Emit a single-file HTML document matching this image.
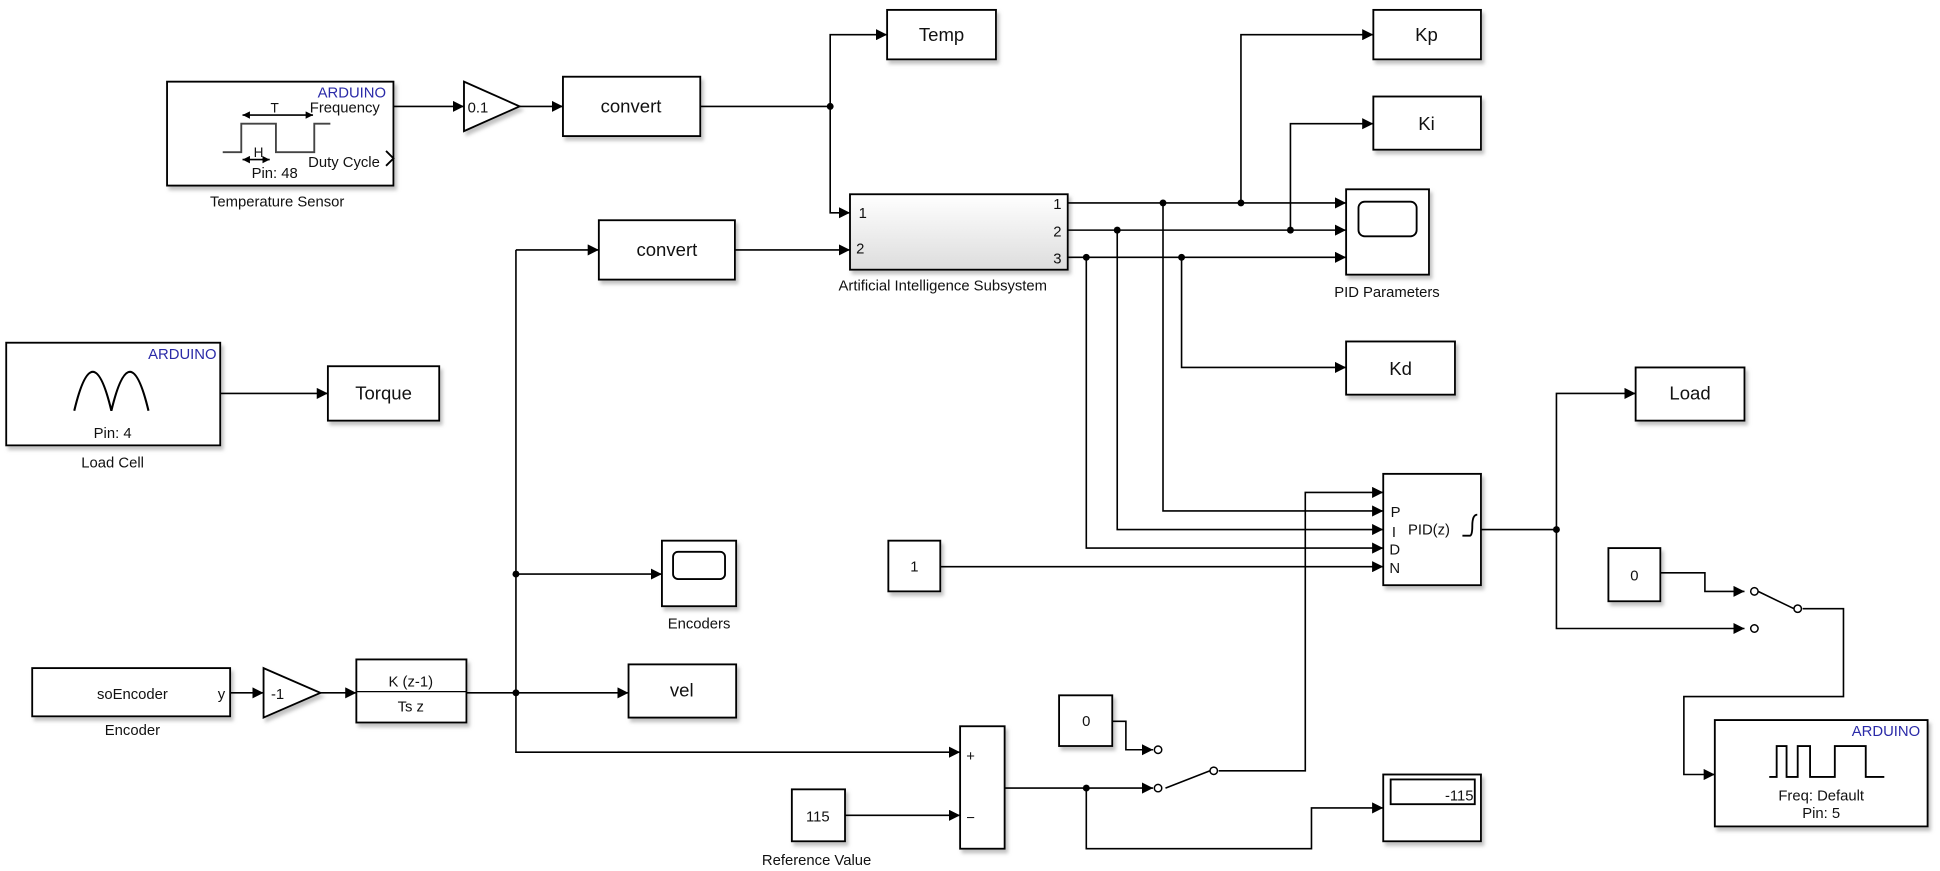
<!DOCTYPE html>
<html><head><meta charset="utf-8"><style>
html,body{margin:0;padding:0;background:#fff;}
svg{display:block;}
text{font-family:"Liberation Sans",Arial,sans-serif;fill:#111;}
</style></head><body>
<svg width="1940" height="871" viewBox="0 0 1568 704" xmlns="http://www.w3.org/2000/svg">
<defs>
<marker id="a" viewBox="0 0 10 10" refX="10" refY="5" markerWidth="9" markerHeight="9" markerUnits="userSpaceOnUse" orient="auto"><path d="M0,0L10,5L0,10z" fill="#000"/></marker>
<marker id="b" viewBox="0 0 10 10" refX="10" refY="5" markerWidth="6" markerHeight="6" markerUnits="userSpaceOnUse" orient="auto-start-reverse"><path d="M0,0L10,5L0,10z" fill="#000"/></marker>
<linearGradient id="g" x1="0" y1="0" x2="0" y2="1"><stop offset="0" stop-color="#fff"/><stop offset="1" stop-color="#ddd"/></linearGradient>
<filter id="s" x="-10%" y="-10%" width="130%" height="130%"><feDropShadow dx="2" dy="3" stdDeviation="1.5" flood-color="#999" flood-opacity="0.6"/></filter>
</defs>
<g fill="#fff" stroke="#000" stroke-width="1.5" filter="url(#s)">
<rect x="135" y="66" width="183" height="84"/>
<polygon points="375,66 420,86 375,106"/>
<rect x="455" y="62" width="111" height="48"/>
<rect x="717" y="8" width="88" height="40"/>
<rect x="687" y="157" width="176" height="61" fill="url(#g)"/>
<rect x="484" y="178" width="110" height="48"/>
<rect x="5" y="277" width="173" height="83"/>
<rect x="265" y="296" width="90" height="44"/>
<rect x="535" y="437" width="60" height="53"/>
<rect x="26" y="540" width="160" height="39"/>
<polygon points="213,540 259,560 213,580"/>
<rect x="288" y="533" width="89" height="51"/>
<rect x="508" y="537" width="87" height="43"/>
<rect x="776" y="587" width="36" height="99"/>
<rect x="640" y="638" width="43" height="42"/>
<rect x="1118" y="626" width="79" height="54"/>
<rect x="856" y="562" width="43" height="41"/>
<rect x="718" y="437" width="42" height="41"/>
<rect x="1118" y="383" width="79" height="90"/>
<rect x="1110" y="8" width="87" height="40"/>
<rect x="1110" y="78" width="87" height="43"/>
<rect x="1088" y="153" width="67" height="69"/>
<rect x="1088" y="276" width="88" height="43"/>
<rect x="1322" y="297" width="88" height="43"/>
<rect x="1300" y="443" width="42" height="43"/>
<rect x="1386" y="582" width="172" height="86"/>
</g>
<g fill="none" stroke="#000" stroke-width="1.5">
<rect x="544" y="446" width="42" height="22" rx="4"/>
<rect x="1098" y="163" width="47" height="28" rx="5"/>
<rect x="1124" y="630" width="68" height="20"/>
<path d="M180,123 H195 V100 H223 V123 H254 V100 H267" stroke="#444"/>
<path d="M196,93 H253" stroke-width="1.3" marker-start="url(#b)" marker-end="url(#b)"/>
<path d="M196,129 H218" stroke-width="1.3" marker-start="url(#b)" marker-end="url(#b)"/>
<path d="M60,332 C70,290 80,290 90,332 C100,290 110,290 120,332" stroke-width="1.7"/>
<path d="M1430,628 H1436 V603 H1444 V628 H1453 V603 H1463 V628 H1483 V603 H1508 V628 H1523" stroke-width="1.5"/>
<path d="M1182,433 H1188 Q1190,433 1190,425 Q1190,416 1194,416" stroke-width="1.5"/>
<path d="M312,122 L318,128 L312,134"/>
<line x1="288" y1="559" x2="377" y2="559" stroke-width="1"/>
</g>
<g font-size="12">
<text x="312" y="79" text-anchor="end" style="fill:#2a2aa8">ARDUINO</text>
<text x="307" y="91" text-anchor="end">Frequency</text>
<text x="307" y="135" text-anchor="end">Duty Cycle</text>
<text x="222" y="144" text-anchor="middle">Pin: 48</text>
<text x="222" y="91" text-anchor="middle" font-size="11">T</text>
<text x="209" y="127" text-anchor="middle" font-size="11">H</text>
<text x="224" y="167" text-anchor="middle">Temperature Sensor</text>
<text x="175" y="290" text-anchor="end" style="fill:#2a2aa8">ARDUINO</text>
<text x="91" y="354" text-anchor="middle">Pin: 4</text>
<text x="91" y="378" text-anchor="middle">Load Cell</text>
<text x="762" y="235" text-anchor="middle">Artificial Intelligence Subsystem</text>
<text x="694" y="176">1</text><text x="692" y="205">2</text>
<text x="858" y="169" text-anchor="end">1</text><text x="858" y="191" text-anchor="end">2</text><text x="858" y="213" text-anchor="end">3</text>
<text x="1121" y="240" text-anchor="middle">PID Parameters</text>
<text x="565" y="508" text-anchor="middle">Encoders</text>
<text x="107" y="594" text-anchor="middle">Encoder</text>
<text x="660" y="699" text-anchor="middle">Reference Value</text>
<text x="1552" y="595" text-anchor="end" style="fill:#2a2aa8">ARDUINO</text>
<text x="1472" y="647" text-anchor="middle">Freq: Default</text>
<text x="1472" y="661" text-anchor="middle">Pin: 5</text>
<text x="1124" y="418">P</text><text x="1125" y="434">I</text><text x="1123" y="448">D</text><text x="1123" y="463">N</text>
<text x="1138" y="432">PID(z)</text>
<text x="1191" y="647" text-anchor="end">-115</text>
<text x="878" y="587" text-anchor="middle">0</text>
<text x="739" y="462" text-anchor="middle">1</text>
<text x="661" y="664" text-anchor="middle">115</text>
<text x="1321" y="469" text-anchor="middle">0</text>
<text x="781" y="615">+</text><text x="781" y="665">−</text>
<text x="107" y="565" text-anchor="middle">soEncoder</text>
<text x="176" y="565">y</text>
<text x="219" y="565">-1</text>
<text x="378" y="91">0.1</text>
<text x="332" y="555" text-anchor="middle">K (z-1)</text>
<text x="332" y="575" text-anchor="middle">Ts z</text>
</g>
<g font-size="15" text-anchor="middle">
<text x="510" y="91">convert</text>
<text x="539" y="207">convert</text>
<text x="761" y="33">Temp</text>
<text x="310" y="323">Torque</text>
<text x="551" y="563">vel</text>
<text x="1153" y="33">Kp</text>
<text x="1153" y="105">Ki</text>
<text x="1132" y="303">Kd</text>
<text x="1366" y="323">Load</text>
</g>
<g fill="none" stroke="#000" stroke-width="1.3">
<path d="M318,86H375" marker-end="url(#a)"/>
<path d="M420,86H455" marker-end="url(#a)"/>
<path d="M566,86H671"/>
<path d="M671,86V28H717" marker-end="url(#a)"/>
<path d="M671,86V172H687" marker-end="url(#a)"/>
<path d="M594,202H687" marker-end="url(#a)"/>
<path d="M417,202H484" marker-end="url(#a)"/>
<path d="M417,202V608H776" marker-end="url(#a)"/>
<path d="M178,318H265" marker-end="url(#a)"/>
<path d="M417,464H535" marker-end="url(#a)"/>
<path d="M186,560H213" marker-end="url(#a)"/>
<path d="M259,560H288" marker-end="url(#a)"/>
<path d="M377,560H508" marker-end="url(#a)"/>
<path d="M683,659H776" marker-end="url(#a)"/>
<path d="M812,637H932" marker-end="url(#a)"/>
<path d="M878,637V686H1060V653H1118" marker-end="url(#a)"/>
<path d="M899,583H910V606H932" marker-end="url(#a)"/>
<path d="M942,637L978,623M985,623H1055V398H1118" marker-end="url(#a)"/>
<path d="M863,164H1088" marker-end="url(#a)"/>
<path d="M863,186H1088" marker-end="url(#a)"/>
<path d="M863,208H1088" marker-end="url(#a)"/>
<path d="M1003,164V28H1110" marker-end="url(#a)"/>
<path d="M1043,186V100H1110" marker-end="url(#a)"/>
<path d="M955,208V297H1088" marker-end="url(#a)"/>
<path d="M940,164V413H1118" marker-end="url(#a)"/>
<path d="M903,186V428H1118" marker-end="url(#a)"/>
<path d="M878,208V443H1118" marker-end="url(#a)"/>
<path d="M760,458H1118" marker-end="url(#a)"/>
<path d="M1197,428H1258V318H1322" marker-end="url(#a)"/>
<path d="M1258,428V508H1410" marker-end="url(#a)"/>
<path d="M1342,463H1378V478H1410" marker-end="url(#a)"/>
<path d="M1421,478L1450,492M1457,492H1490V563H1361V626H1386" marker-end="url(#a)"/>
</g>
<g fill="#fff" stroke="#000" stroke-width="1.2">
<circle cx="936" cy="606" r="3"/><circle cx="936" cy="637" r="3"/><circle cx="981" cy="623" r="3"/>
<circle cx="1418" cy="478" r="3"/><circle cx="1418" cy="508" r="3"/><circle cx="1453" cy="492" r="3"/>
</g>
<g fill="#000">
<circle cx="671" cy="86" r="2.8"/><circle cx="417" cy="464" r="2.8"/><circle cx="417" cy="560" r="2.8"/>
<circle cx="878" cy="637" r="2.8"/><circle cx="940" cy="164" r="2.8"/><circle cx="1003" cy="164" r="2.8"/>
<circle cx="903" cy="186" r="2.8"/><circle cx="1043" cy="186" r="2.8"/><circle cx="878" cy="208" r="2.8"/>
<circle cx="955" cy="208" r="2.8"/><circle cx="1258" cy="428" r="2.8"/>
</g>
</svg>
</body></html>
